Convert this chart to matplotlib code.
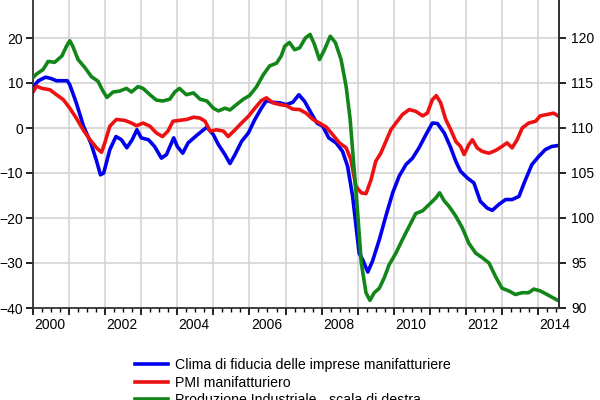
import matplotlib
matplotlib.use("Agg")
import matplotlib.pyplot as plt
import numpy as np

plt.rcParams['font.family'] = ['Liberation Sans', 'DejaVu Sans']

# Clima di fiducia (scala sinistra)
clima_t = [2000.0, 2000.15, 2000.35, 2000.5, 2000.65, 2000.95, 2001.02, 2001.2, 2001.4,
           2001.6, 2001.75, 2001.87, 2001.96, 2002.13, 2002.3, 2002.45, 2002.6, 2002.75,
           2002.88, 2003.0, 2003.2, 2003.37, 2003.56, 2003.7, 2003.9, 2004.0, 2004.15,
           2004.3, 2004.5, 2004.68, 2004.82, 2005.0, 2005.14, 2005.32, 2005.46, 2005.6,
           2005.78, 2005.97, 2006.15, 2006.33, 2006.47, 2006.65, 2006.84, 2007.02, 2007.2,
           2007.37, 2007.53, 2007.71, 2007.87, 2008.03, 2008.2, 2008.4, 2008.58, 2008.72,
           2008.86, 2008.95, 2009.04, 2009.14, 2009.28, 2009.41, 2009.6, 2009.78, 2009.97,
           2010.15, 2010.34, 2010.52, 2010.7, 2010.89, 2011.07, 2011.21, 2011.4, 2011.58,
           2011.72, 2011.85, 2012.04, 2012.22, 2012.4, 2012.59, 2012.73, 2012.91, 2013.1,
           2013.28, 2013.47, 2013.65, 2013.83, 2014.02, 2014.2, 2014.38, 2014.55]
clima_v = [9.1, 10.5, 11.3, 11.0, 10.5, 10.5, 9.6, 5.6, 0.4,
           -3.3, -7.0, -10.4, -10.0, -4.8, -1.9, -2.6, -4.4, -2.6,
           -0.4, -2.2, -2.6, -4.1, -6.7, -5.9, -2.2, -4.1, -5.6,
           -3.3, -1.9, -0.7, 0.2, -1.5, -3.7, -5.9, -7.9, -5.9,
           -3.0, -1.1, 1.9, 4.4, 6.1, 5.7, 5.6, 5.2, 5.7,
           7.4, 5.9, 3.3, 1.1, 0.4, -2.2, -3.3, -5.2, -8.5,
           -15.2, -21.5, -27.8, -29.3, -32.0, -29.6, -24.8, -19.6, -14.4,
           -10.7, -8.1, -6.7, -4.4, -1.5, 1.1, 1.0, -1.1, -4.4,
           -7.4, -9.6, -11.1, -12.2, -16.3, -17.8, -18.3, -17.0, -15.9,
           -15.9, -15.2, -11.5, -8.1, -6.3, -4.8, -4.1, -3.9]

# PMI manifatturiero (scala sinistra)
pmi_t = [2000.0, 2000.1, 2000.25, 2000.47, 2000.65, 2000.84, 2001.02, 2001.2, 2001.39,
         2001.58, 2001.76, 2001.9, 2001.99, 2002.13, 2002.31, 2002.54, 2002.73, 2002.87,
         2003.05, 2003.24, 2003.42, 2003.59, 2003.74, 2003.88, 2004.06, 2004.26, 2004.45,
         2004.63, 2004.77, 2004.91, 2005.09, 2005.28, 2005.41, 2005.6, 2005.78, 2005.97,
         2006.15, 2006.33, 2006.47, 2006.65, 2006.84, 2007.02, 2007.2, 2007.39, 2007.57,
         2007.76, 2007.94, 2008.13, 2008.31, 2008.49, 2008.68, 2008.81, 2008.95, 2009.1,
         2009.23, 2009.37, 2009.5, 2009.64, 2009.78, 2009.92, 2010.06, 2010.24, 2010.43,
         2010.61, 2010.8, 2010.93, 2011.07, 2011.18, 2011.3, 2011.44, 2011.58, 2011.72,
         2011.85, 2011.95, 2012.08, 2012.18, 2012.31, 2012.45, 2012.64, 2012.82, 2013.0,
         2013.14, 2013.28, 2013.42, 2013.56, 2013.74, 2013.93, 2014.06, 2014.25, 2014.43,
         2014.55]
pmi_v = [8.0, 9.3, 8.8, 8.5, 7.4, 6.3, 4.4, 2.2, -0.4,
         -2.6, -4.4, -5.4, -3.3, 0.4, 1.9, 1.7, 1.1, 0.5,
         1.1, 0.4, -1.1, -1.9, -0.7, 1.5, 1.7, 1.9, 2.4,
         2.2, 1.5, -0.7, -0.4, -0.7, -1.9, -0.4, 1.1, 2.6,
         4.4, 6.1, 6.7, 5.6, 5.2, 5.0, 4.2, 4.1, 3.3,
         1.9, 1.1, 0.2, -1.5, -3.3, -4.4, -7.0, -13.0, -14.4,
         -14.6, -11.5, -7.4, -5.6, -3.0, -0.4, 1.1, 3.0, 4.1,
         3.7, 2.7, 3.3, 6.3, 7.2, 5.6, 1.9, -0.4, -3.0,
         -4.1, -5.9, -3.7, -2.6, -4.4, -5.2, -5.6, -5.0, -4.1,
         -3.3, -4.4, -2.6, 0.0, 1.1, 1.5, 2.7, 3.0, 3.3,
         2.7]

# Produzione industriale (scala di destra)
prod_t = [2000.0, 2000.1, 2000.28, 2000.42, 2000.6, 2000.8, 2000.93, 2001.02, 2001.1,
          2001.25, 2001.44, 2001.62, 2001.8, 2001.94, 2002.05, 2002.22, 2002.4, 2002.59,
          2002.73, 2002.91, 2003.05, 2003.24, 2003.42, 2003.6, 2003.79, 2003.93, 2004.06,
          2004.25, 2004.45, 2004.63, 2004.82, 2005.0, 2005.14, 2005.32, 2005.46, 2005.64,
          2005.83, 2006.0, 2006.2, 2006.38, 2006.56, 2006.75, 2006.88, 2006.98, 2007.11,
          2007.25, 2007.39, 2007.55, 2007.68, 2007.8, 2007.94, 2008.08, 2008.24, 2008.38,
          2008.54, 2008.68, 2008.79, 2008.88, 2009.0, 2009.1, 2009.23, 2009.34, 2009.46,
          2009.6, 2009.74, 2009.87, 2010.06, 2010.24, 2010.43, 2010.61, 2010.8, 2010.98,
          2011.16, 2011.27, 2011.4, 2011.53, 2011.72, 2011.9, 2012.08, 2012.27, 2012.45,
          2012.64, 2012.82, 2013.0, 2013.19, 2013.37, 2013.56, 2013.74, 2013.88, 2014.06,
          2014.25, 2014.43, 2014.57]
prod_v = [115.6, 116.0, 116.5, 117.4, 117.3, 118.0, 119.1, 119.7, 119.1,
          117.6, 116.7, 115.7, 115.2, 114.1, 113.4, 114.0, 114.1, 114.4,
          114.0, 114.6, 114.4, 113.7, 113.1, 113.0, 113.2, 114.0, 114.4,
          113.7, 113.9, 113.2, 113.0, 112.2, 111.9, 112.2, 112.0, 112.6,
          113.2, 113.6, 114.6, 115.9, 116.9, 117.2, 118.0, 119.1, 119.5,
          118.7, 118.9, 120.0, 120.4, 119.3, 117.6, 118.7, 120.2, 119.5,
          117.6, 114.6, 111.0, 106.5, 100.5, 95.0, 91.7, 90.85, 91.7,
          92.2, 93.4, 94.8, 96.1, 97.6, 99.1, 100.5, 100.8, 101.5,
          102.2, 102.8, 101.9, 101.3, 100.2, 98.9, 97.2, 96.1, 95.6,
          95.0, 93.5, 92.2, 91.9, 91.5, 91.7, 91.7, 92.1, 91.9,
          91.5, 91.1, 90.8]

years = list(range(2000, 2015))
year_labels = ['2000', '2002', '2004', '2006', '2008', '2010', '2012', '2014']
labels = ['Clima di fiducia delle imprese manifatturiere',
          'PMI manifatturiero',
          'Produzione Industriale - scala di destra']

fig = plt.figure(figsize=(6, 4), dpi=100)
ax = fig.add_axes([33 / 600, 1 - 308 / 400, 526 / 600, 315 / 400])
ax2 = ax.twinx()

l1, = ax.plot(clima_t, clima_v, color='#0000ee', lw=2.6, solid_joinstyle='round')
l2, = ax.plot(pmi_t, pmi_v, color='#ee1111', lw=2.6, solid_joinstyle='round')
l3, = ax2.plot(prod_t, prod_v, color='#13861a', lw=2.6, solid_joinstyle='round')

ax.set_xlim(2000, 2014.58)
ax.set_ylim(-40, 30)
ax2.set_ylim(90, 125)
ax.set_yticks([-40, -30, -20, -10, 0, 10, 20])
ax2.set_yticks([90, 95, 100, 105, 110, 115, 120])

ax.set_xticks(years)
ax.set_xticklabels([''] * len(years))
ax.set_xticks(np.arange(2000, 2014.6, 0.25), minor=True)
ax.grid(True, which='major', color='#d4d4d4', lw=1.2)
ax.set_axisbelow(True)

ax.spines['top'].set_visible(False)
ax2.spines['top'].set_visible(False)
for a in (ax, ax2):
    for s in a.spines.values():
        s.set_color('#333333')
        s.set_linewidth(1.3)
ax2.spines['left'].set_visible(False)
ax2.spines['bottom'].set_visible(False)

ax.tick_params(axis='y', direction='out', length=5, width=1.2, labelsize=10, pad=2)
ax2.tick_params(axis='y', direction='out', length=5, width=1.2, labelsize=10, pad=4)
ax.tick_params(axis='x', which='major', direction='out', length=5, width=1.2)
ax.tick_params(axis='x', which='minor', direction='out', length=3, width=1)

# year labels sit in the middle of the year, EViews style
for lab in year_labels:
    ax.text(int(lab) + 0.47, -0.055, lab, transform=ax.get_xaxis_transform(),
            ha='center', va='center', fontsize=10)

fig.legend([l1, l2, l3], labels, loc='upper left',
           bbox_to_anchor=(135 / 600, 1 - 358 / 400), frameon=False,
           fontsize=10.2, handlelength=2.35, handletextpad=0.45,
           labelspacing=0.25, borderpad=0, borderaxespad=0)

fig.savefig('out.png', dpi=100)
